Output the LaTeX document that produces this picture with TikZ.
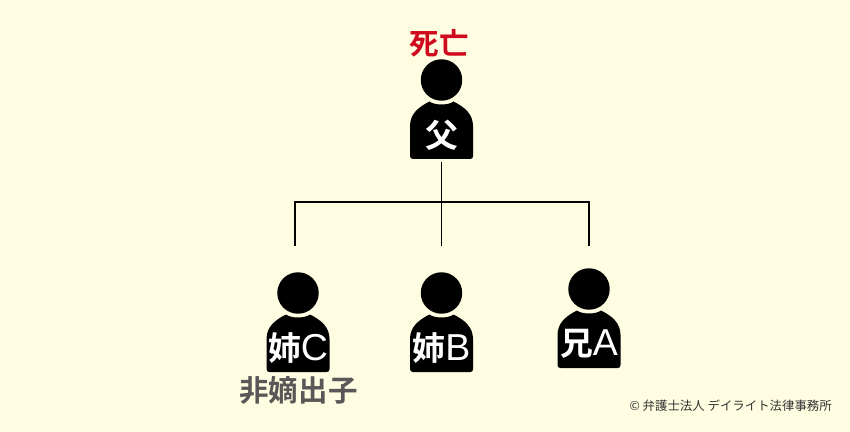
\documentclass[tikz,border=0pt]{standalone}
\usepackage{fontspec}
\usepackage{xcolor}
\setmainfont{Noto Sans CJK JP}
\newfontfamily\latinfont{Liberation Sans}
\newfontfamily\boldcjk{Noto Sans CJK JP Bold}
\usetikzlibrary{positioning}
\definecolor{paper}{RGB}{255,253,225}
\definecolor{deadred}{RGB}{208,10,30}
\definecolor{notegray}{RGB}{89,87,87}
\definecolor{markgray}{RGB}{50,50,50}
\newcommand{\bigA}[1]{{\latinfont\fontsize{32}{32}\selectfont #1}}
\tikzset{
    headnode/.style={circle, fill=black, minimum size=35.4pt, inner sep=0pt},
    namenode/.style={white, font=\boldcjk\fontsize{28}{28}\selectfont, inner sep=0pt},
    notenode/.style={font=\boldcjk\fontsize{25.2}{26}\selectfont, inner sep=0pt},
    branch/.style={draw=black, line width=1.3pt}
}
\newcommand{\personbody}[3]{%
    \begin{scope}[shift={(#2)}]
        \node[headnode] (#1head) at (0,0) {};
        \fill[black] (-28.5,79) .. controls (-30.5,79) and (-31.5,78) .. (-31.5,76)
            -- (-31.5,46) .. controls (-31.5,34) and (-23,27) .. (-12,21.5)
            .. controls (-7,25.5) and (7,25.5) .. (12,21.5)
            .. controls (23,27) and (31.5,34) .. (31.5,46)
            -- (31.5,76) .. controls (31.5,78) and (30.5,79) .. (28.5,79) -- cycle;
        \node[namenode] (#1) at (0,55) {#3};
    \end{scope}
}
\begin{document}
\begin{tikzpicture}[x=0.03cm, y=-0.03cm]
    \useasboundingbox[fill=paper] (0,0) rectangle (850,432);

    % People
    \personbody{father}{441.5,80}{父}
    \personbody{sisterC}{298,293}{姉\bigA{C}}
    \personbody{sisterB}{441.5,293}{姉\bigA{B}}
    \personbody{brotherA}{589,289}{兄\bigA{A}}

    % Labels
    \node[notenode, deadred] (dead) at (439,43) {死亡};
    \node[notenode, notegray] (note) at (298.5,390) {非嫡出子};
    \node[markgray, font=\fontsize{10.6}{11}\selectfont, inner sep=0pt, anchor=east] (mark) at (832,406) {© 弁護士法人 デイライト法律事務所};

    % Family lines
    \coordinate (top) at (441.5,162);
    \coordinate (fork) at (441.5,202);
    \coordinate (forkC) at (295,202);
    \coordinate (forkA) at (589,202);
    \coordinate (endC) at (295,246);
    \coordinate (endB) at (441.5,246);
    \coordinate (endA) at (589,246);
    \draw[branch] (top) -- (endB);
    \draw[branch] (endC) -- (forkC) -- (forkA) -- (endA);
\end{tikzpicture}
\end{document}
